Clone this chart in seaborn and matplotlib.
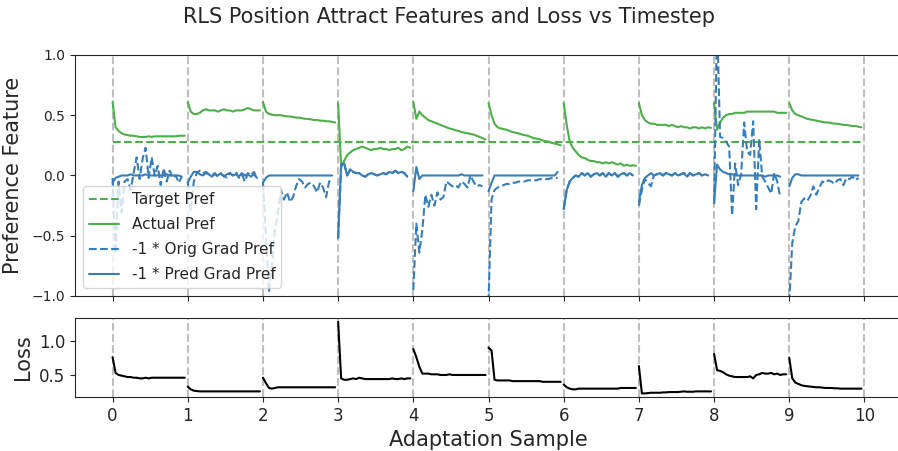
import numpy as np
import pandas as pd
import matplotlib
matplotlib.use("Agg")
import matplotlib.pyplot as plt
import seaborn as sns
from matplotlib.lines import Line2D

# ---- data ---------------------------------------------------------------
step = 0.04
target_pref = 0.28
samples = list(range(10))

actual_pref = [
    [0.61, 0.40, 0.37, 0.35, 0.34, 0.335, 0.33, 0.33, 0.325, 0.32, 0.32, 0.32, 0.325, 0.32, 0.325, 0.325, 0.325, 0.325, 0.325, 0.325, 0.325, 0.325, 0.33, 0.33, 0.33],
    [0.61, 0.53, 0.51, 0.51, 0.52, 0.54, 0.55, 0.54, 0.54, 0.54, 0.53, 0.54, 0.55, 0.54, 0.54, 0.53, 0.54, 0.54, 0.54, 0.55, 0.56, 0.55, 0.54, 0.54, 0.54],
    [0.61, 0.53, 0.51, 0.505, 0.50, 0.50, 0.50, 0.495, 0.49, 0.49, 0.485, 0.48, 0.48, 0.475, 0.47, 0.47, 0.465, 0.46, 0.46, 0.455, 0.455, 0.45, 0.45, 0.445, 0.44],
    [0.60, 0.07, 0.12, 0.17, 0.19, 0.21, 0.22, 0.23, 0.24, 0.23, 0.22, 0.21, 0.22, 0.22, 0.23, 0.22, 0.22, 0.21, 0.22, 0.22, 0.23, 0.21, 0.22, 0.24, 0.23],
    [0.61, 0.47, 0.53, 0.50, 0.48, 0.46, 0.45, 0.44, 0.43, 0.42, 0.41, 0.40, 0.39, 0.385, 0.375, 0.37, 0.36, 0.355, 0.35, 0.345, 0.34, 0.33, 0.32, 0.31, 0.30],
    [0.60, 0.50, 0.43, 0.40, 0.39, 0.385, 0.38, 0.37, 0.36, 0.355, 0.35, 0.34, 0.335, 0.33, 0.32, 0.31, 0.305, 0.30, 0.29, 0.285, 0.28, 0.27, 0.265, 0.26, 0.25],
    [0.60, 0.42, 0.28, 0.23, 0.20, 0.17, 0.15, 0.145, 0.13, 0.12, 0.12, 0.11, 0.11, 0.10, 0.11, 0.10, 0.11, 0.10, 0.09, 0.10, 0.08, 0.09, 0.08, 0.085, 0.08],
    [0.60, 0.50, 0.46, 0.44, 0.43, 0.43, 0.42, 0.42, 0.42, 0.42, 0.41, 0.42, 0.41, 0.40, 0.41, 0.40, 0.40, 0.39, 0.40, 0.40, 0.39, 0.40, 0.39, 0.40, 0.395],
    [0.60, 0.38, 0.44, 0.48, 0.50, 0.51, 0.51, 0.52, 0.52, 0.52, 0.52, 0.53, 0.53, 0.53, 0.53, 0.53, 0.53, 0.53, 0.53, 0.53, 0.53, 0.52, 0.52, 0.52, 0.52],
    [0.60, 0.54, 0.51, 0.50, 0.49, 0.48, 0.47, 0.465, 0.46, 0.455, 0.45, 0.445, 0.44, 0.44, 0.435, 0.43, 0.43, 0.425, 0.42, 0.42, 0.415, 0.41, 0.41, 0.405, 0.40],
]

orig_grad = [
    [-0.02, -0.65, -0.05, -0.31, -0.05, -0.03, -0.12, 0.02, 0.15, -0.03, 0.14, 0.23, -0.02, 0.15, 0.0, 0.08, -0.08, 0.06, -0.05, 0.04, -0.02, 0.0, -0.06, -0.01],
    [-0.05, -0.30, -0.05, 0.02, 0.04, 0.02, 0.03, 0.01, 0.0, 0.02, -0.01, 0.01, 0.0, -0.02, 0.02, 0.0, 0.03, -0.02, 0.01, -0.05, 0.02, 0.0, 0.03, -0.02],
    [-0.06, -0.50, -0.97, -0.75, -0.45, -0.30, -0.12, -0.20, -0.14, -0.22, -0.18, -0.09, -0.03, -0.05, -0.10, -0.07, -0.06, -0.09, -0.14, -0.06, -0.10, -0.18, -0.05, -0.03],
    [-0.52, 0.09, 0.10, 0.0, 0.05, 0.03, 0.02, 0.02, 0.0, -0.01, 0.01, 0.02, 0.01, 0.0, 0.01, 0.02, 0.01, 0.03, 0.02, 0.04, 0.02, 0.03, 0.02, -0.01],
    [-0.95, -0.40, -0.64, -0.45, -0.16, -0.26, -0.16, -0.25, -0.14, -0.20, -0.18, -0.05, -0.07, -0.09, -0.08, -0.10, -0.05, -0.07, -0.10, 0.0, -0.05, -0.09, -0.08, -0.09],
    [-1.05, -0.20, -0.12, -0.10, -0.09, -0.08, -0.07, -0.07, -0.06, -0.06, -0.05, -0.05, -0.05, -0.04, -0.04, -0.04, -0.04, -0.03, -0.03, -0.03, -0.03, -0.02, -0.02, -0.02],
    [-0.28, -0.12, -0.05, -0.02, 0.0, -0.01, 0.02, 0.0, 0.02, -0.01, 0.01, 0.02, 0.0, 0.02, -0.01, 0.02, 0.0, 0.02, -0.01, 0.01, 0.02, 0.0, 0.02, 0.0],
    [-0.25, -0.12, -0.03, -0.06, -0.09, 0.0, 0.01, 0.02, 0.0, 0.02, 0.01, 0.0, 0.02, 0.0, 0.01, 0.02, -0.01, 0.02, 0.0, 0.01, 0.02, 0.0, 0.01, 0.0],
    [-0.23, 1.30, 0.32, 0.31, 0.28, 0.24, -0.33, 0.10, -0.08, 0.01, 0.44, 0.20, 0.17, 0.45, -0.28, 0.30, -0.01, -0.05, -0.10, -0.15, 0.02, -0.05, -0.18],
    [-1.05, -0.56, -0.42, -0.38, -0.22, -0.19, -0.21, -0.17, -0.09, -0.16, -0.10, -0.05, -0.06, -0.04, -0.05, -0.07, -0.04, -0.03, -0.08, -0.02, -0.03, -0.01, -0.04, -0.02],
]

pred_grad = [
    [-0.06, -0.02, -0.01, 0.0, 0.0, 0.0, 0.01, 0.0, 0.0, 0.0, 0.0, 0.01, 0.0, 0.0, 0.0, 0.0, 0.0, 0.0, 0.01, 0.0, 0.0, 0.0, 0.0, -0.01],
    [-0.06, -0.01, 0.03, 0.03, 0.01, 0.0, 0.02, 0.01, -0.01, 0.01, 0.0, 0.02, -0.01, 0.01, 0.02, 0.0, 0.01, -0.01, 0.02, 0.0, 0.01, -0.01, 0.01, -0.02],
    [-0.06, -0.02, 0.0, 0.0, 0.0, 0.0, 0.0, 0.0, 0.0, 0.0, 0.0, 0.0, 0.0, 0.0, 0.0, 0.0, 0.0, 0.0, 0.0, 0.0, 0.0, 0.0, 0.0, 0.0],
    [-0.52, 0.09, 0.10, 0.0, 0.05, 0.03, 0.02, 0.02, 0.0, -0.01, 0.01, 0.02, 0.01, 0.0, 0.01, 0.02, 0.01, 0.03, 0.02, 0.04, 0.02, 0.03, 0.02, -0.01],
    [-0.13, 0.07, -0.03, 0.0, 0.0, 0.0, 0.0, 0.0, 0.0, 0.0, 0.0, 0.0, 0.0, 0.0, 0.0, 0.0, 0.01, 0.0, 0.0, 0.0, 0.0, 0.0, 0.0, 0.0],
    [-0.13, -0.06, 0.0, 0.0, 0.0, 0.0, 0.0, 0.0, 0.0, 0.0, 0.0, 0.0, 0.0, 0.0, 0.0, 0.0, 0.0, 0.0, 0.0, 0.0, 0.0, 0.0, 0.0, 0.03],
    [-0.28, -0.12, -0.05, -0.02, 0.0, -0.01, 0.02, 0.0, 0.02, -0.01, 0.01, 0.02, 0.0, 0.02, -0.01, 0.02, 0.0, 0.02, -0.01, 0.01, 0.02, 0.0, 0.02, 0.0],
    [-0.22, -0.08, -0.02, 0.0, 0.02, 0.0, 0.01, 0.02, 0.0, 0.02, 0.01, 0.0, 0.02, 0.0, 0.01, 0.02, -0.01, 0.02, 0.0, 0.01, 0.02, 0.0, 0.01, 0.0],
    [-0.23, 0.09, 0.05, 0.03, 0.02, 0.01, 0.01, 0.0, 0.0, 0.0, 0.0, 0.0, 0.0, 0.0, 0.0, 0.0, 0.0, -0.01, 0.0, 0.0, 0.0, 0.0, -0.01],
    [-0.09, -0.02, 0.01, 0.01, 0.0, 0.0, 0.0, 0.0, 0.0, 0.0, 0.0, 0.0, 0.0, 0.0, 0.0, 0.0, 0.0, 0.0, 0.0, 0.0, 0.0, 0.0, 0.0, 0.0],
]

loss = [
    [0.76, 0.53, 0.50, 0.49, 0.48, 0.47, 0.47, 0.46, 0.46, 0.45, 0.45, 0.46, 0.45, 0.46, 0.46, 0.46, 0.46, 0.46, 0.46, 0.46, 0.46, 0.46, 0.46, 0.46, 0.46],
    [0.33, 0.29, 0.27, 0.265, 0.26, 0.26, 0.26, 0.26, 0.26, 0.26, 0.26, 0.26, 0.26, 0.26, 0.26, 0.26, 0.26, 0.26, 0.26, 0.26, 0.26, 0.26, 0.26, 0.26, 0.26],
    [0.46, 0.38, 0.31, 0.30, 0.31, 0.32, 0.32, 0.32, 0.32, 0.32, 0.32, 0.32, 0.32, 0.32, 0.32, 0.32, 0.32, 0.32, 0.32, 0.32, 0.32, 0.32, 0.32, 0.32, 0.32],
    [1.28, 0.45, 0.43, 0.43, 0.44, 0.45, 0.44, 0.46, 0.45, 0.44, 0.44, 0.44, 0.44, 0.44, 0.44, 0.44, 0.44, 0.44, 0.45, 0.44, 0.44, 0.45, 0.44, 0.45, 0.45],
    [0.88, 0.76, 0.62, 0.52, 0.52, 0.52, 0.51, 0.51, 0.51, 0.50, 0.50, 0.50, 0.51, 0.50, 0.50, 0.50, 0.50, 0.50, 0.50, 0.50, 0.50, 0.50, 0.50, 0.50, 0.50],
    [0.90, 0.86, 0.43, 0.42, 0.42, 0.42, 0.42, 0.42, 0.41, 0.41, 0.41, 0.41, 0.41, 0.41, 0.41, 0.41, 0.41, 0.41, 0.40, 0.40, 0.40, 0.40, 0.40, 0.40, 0.40],
    [0.36, 0.32, 0.30, 0.29, 0.29, 0.30, 0.30, 0.30, 0.30, 0.30, 0.30, 0.30, 0.30, 0.30, 0.30, 0.30, 0.30, 0.30, 0.30, 0.31, 0.31, 0.31, 0.31, 0.31, 0.31],
    [0.63, 0.23, 0.23, 0.235, 0.24, 0.24, 0.24, 0.24, 0.245, 0.245, 0.25, 0.25, 0.25, 0.25, 0.255, 0.26, 0.255, 0.255, 0.255, 0.26, 0.26, 0.26, 0.26, 0.26, 0.26],
    [0.81, 0.57, 0.56, 0.54, 0.51, 0.49, 0.48, 0.47, 0.47, 0.47, 0.47, 0.47, 0.48, 0.45, 0.50, 0.51, 0.53, 0.52, 0.52, 0.53, 0.51, 0.52, 0.50, 0.51, 0.51],
    [0.75, 0.45, 0.39, 0.37, 0.35, 0.34, 0.335, 0.33, 0.325, 0.32, 0.32, 0.315, 0.31, 0.31, 0.31, 0.305, 0.305, 0.30, 0.30, 0.30, 0.30, 0.30, 0.30, 0.30, 0.30],
]

xticks = list(range(11))


def to_frame(series):
    rows = []
    for ep, vals in zip(samples, series):
        for k, v in enumerate(vals):
            rows.append({"episode": ep, "x": ep + k * step, "value": v})
    return pd.DataFrame(rows)


df_actual = to_frame(actual_pref)
df_orig = to_frame(orig_grad)
df_pred = to_frame(pred_grad)
df_loss = to_frame(loss)
df_target = pd.DataFrame({"x": xticks, "value": [target_pref] * len(xticks)})

# ---- figure -------------------------------------------------------------
sns.set_style("ticks")
plt.rcParams["font.family"] = ["DejaVu Sans"]

green = "#4daf4a"
blue = "#377eb8"

fig = plt.figure(figsize=(8.98, 4.51), dpi=100)
ax = fig.add_axes([0.0835, 0.3437, 0.921, 0.5344])
ax_loss = fig.add_axes([0.0835, 0.1197, 0.921, 0.175], sharex=ax)

for a in (ax, ax_loss):
    for t in xticks:
        a.axvline(t, color="gray", linestyle="--", alpha=0.5, linewidth=1.5, zorder=0)

sns.lineplot(data=df_target, x="x", y="value", ax=ax, color=green,
             linestyle="--", linewidth=1.5)
sns.lineplot(data=df_actual, x="x", y="value", units="episode", estimator=None,
             ax=ax, color=green, linewidth=1.5)
sns.lineplot(data=df_orig, x="x", y="value", units="episode", estimator=None,
             ax=ax, color=blue, linestyle="--", linewidth=1.5)
sns.lineplot(data=df_pred, x="x", y="value", units="episode", estimator=None,
             ax=ax, color=blue, linewidth=1.5)

ax.set_ylim(-1.0, 1.0)
ax.set_xlim(-0.5, 10.5)
ax.set_yticks([-1.0, -0.5, 0.0, 0.5, 1.0])
ax.set_ylabel("Preference Feature", fontsize=15, labelpad=6)
ax.set_xlabel("")
ax.tick_params(axis="x", labelbottom=False)
ax.tick_params(axis="y", labelsize=10)

handles = [
    Line2D([], [], color=green, linestyle="--", linewidth=1.5),
    Line2D([], [], color=green, linewidth=1.5),
    Line2D([], [], color=blue, linestyle="--", linewidth=1.5),
    Line2D([], [], color=blue, linewidth=1.5),
]
labels = ["Target Pref", "Actual Pref", "-1 * Orig Grad Pref", "-1 * Pred Grad Pref"]
ax.legend(handles, labels, loc="lower left", fontsize=11, labelspacing=0.65)

sns.lineplot(data=df_loss, x="x", y="value", units="episode", estimator=None,
             ax=ax_loss, color="black", linewidth=1.5)
ax_loss.set_ylabel("Loss", fontsize=15)
ax_loss.set_xlabel("Adaptation Sample", fontsize=15)
ax_loss.set_xticks(xticks)
ax_loss.set_yticks([0.5, 1.0])
ax_loss.tick_params(axis="both", labelsize=12)

fig.suptitle("RLS Position Attract Features and Loss vs Timestep", fontsize=15, y=0.985)

fig.savefig("out.png", dpi=100)
